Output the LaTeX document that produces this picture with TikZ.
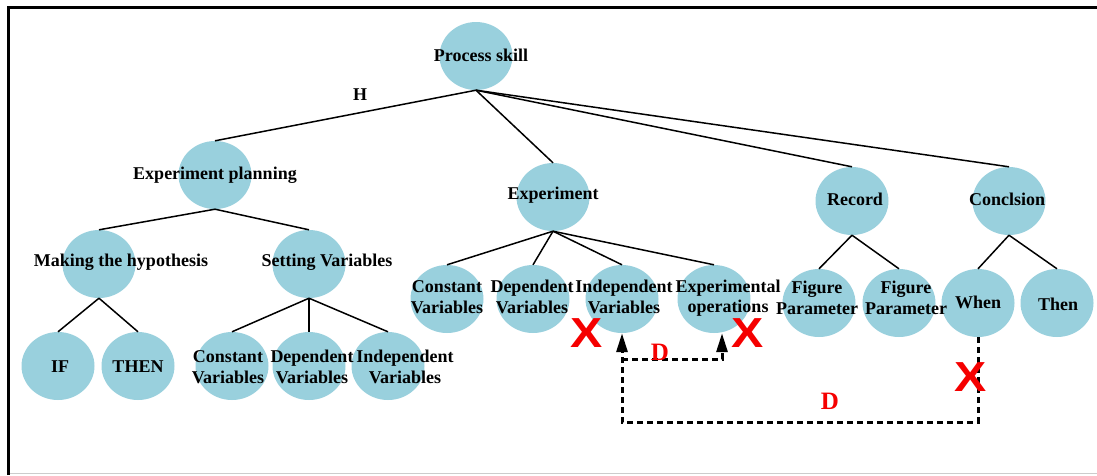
\documentclass[tikz,border=0pt]{standalone}
\usepackage{fontspec}
\setmainfont{Liberation Serif}
\newfontfamily\crossfont{Liberation Sans}
\usetikzlibrary{shapes.geometric,arrows.meta}
\definecolor{bubble}{RGB}{153,208,221}
\definecolor{markred}{RGB}{245,0,0}
\tikzset{
  bub/.style={ellipse, fill=bubble, minimum width=73pt, minimum height=68pt, inner sep=0pt},
  txt/.style={font=\bfseries\fontsize{18}{20.5}\selectfont, align=center, inner sep=0pt, text=black},
  edge/.style={line width=1.5pt, black},
  flow/.style={line width=3pt, dash pattern=on 6pt off 4pt, black},
  tip/.style={-{Triangle[length=19pt,width=11pt]}},
  cross/.style={font=\crossfont\bfseries\fontsize{42}{42}\selectfont, text=markred, inner sep=0pt, xscale=1.15},
  dlab/.style={font=\bfseries\fontsize{25}{25}\selectfont, text=markred, inner sep=0pt}
}
\begin{document}
\begin{tikzpicture}[x=1pt,y=-1pt]
\useasboundingbox (0,0) rectangle (1097,475);

% frame
\draw[line width=3pt] (8.5,475) -- (8.5,7.5) -- (1097,7.5);
\draw[black!20, line width=1pt] (10,473) -- (1097,473);

% bubbles
\node[bub] (ps)   at (476,56)  {};
\node[bub] (plan) at (215,175) {};
\node[bub] (exp)  at (553,197) {};
\node[bub] (rec)  at (852,201) {};
\node[bub] (con)  at (1009,201) {};

\node[bub] (hyp)  at (99,264)  {};
\node[bub] (set)  at (309,264) {};
\node[bub] (if)   at (58,366)  {};
\node[bub] (then) at (138,366) {};
\node[bub] (sc)   at (232,366) {};
\node[bub] (sd)   at (309,366) {};
\node[bub] (si)   at (388,366) {};

\node[bub] (ec)   at (447,299) {};
\node[bub] (ed)   at (533,299) {};
\node[bub] (ind)  at (622,299) {};
\node[bub] (eop)  at (714,299) {};
\node[bub] (fp1)  at (819,303) {};
\node[bub] (fp2)  at (899,303) {};
\node[bub] (when) at (978,303) {};
\node[bub] (thn)  at (1057,303) {};

% tree edges
\foreach \c in {plan,exp,rec,con} \draw[edge] (ps.south) -- (\c.north);
\foreach \c in {hyp,set} \draw[edge] (plan.south) -- (\c.north);
\foreach \c in {if,then} \draw[edge] (hyp.south) -- (\c.north);
\foreach \c in {sc,sd,si} \draw[edge] (set.south) -- (\c.north);
\foreach \c in {ec,ed,ind,eop} \draw[edge] (exp.south) -- (\c.north);
\foreach \c in {fp1,fp2} \draw[edge] (rec.south) -- (\c.north);
\foreach \c in {when,thn} \draw[edge] (con.south) -- (\c.north);

% texts (yshift > 0 moves up)
\node[txt] (ps-t)   at ([xshift=5pt,yshift=1pt]ps) {Process skill};
\node[txt] (plan-t) at (plan) {Experiment planning};
\node[txt] (exp-t)  at ([yshift=2pt]exp) {Experiment};
\node[txt] (rec-t)  at ([xshift=3pt,yshift=2pt]rec) {Record};
\node[txt] (con-t)  at ([xshift=-2pt,yshift=2pt]con) {Conclsion};
\node[txt] (hyp-t)  at ([xshift=22pt,yshift=2pt]hyp) {Making the hypothesis};
\node[txt] (set-t)  at ([xshift=18pt,yshift=2pt]set) {Setting Variables};
\node[txt] (if-t)   at ([xshift=2pt,yshift=-1pt]if) {IF};
\node[txt] (then-t) at ([yshift=-1pt]then) {THEN};
\node[txt] (sc-t)   at ([xshift=-4pt,yshift=-1pt]sc) {Constant\\Variables};
\node[txt] (sd-t)   at ([xshift=3pt,yshift=-1pt]sd) {Dependent\\Variables};
\node[txt] (si-t)   at ([xshift=17pt,yshift=-1pt]si) {Independent\\Variables};
\node[txt] (ec-t)   at ([yshift=2pt]ec) {Constant\\Variables};
\node[txt] (ed-t)   at ([xshift=-1pt,yshift=2pt]ed) {Dependent\\Variables};
\node[txt] (ind-t)  at ([xshift=2pt,yshift=2pt]ind) {Independent\\Variables};
\node[txt] (eop-t)  at ([xshift=14pt,yshift=1pt]eop) {Experimental\\operations};
\node[txt] (fp1-t)  at ([xshift=-2pt,yshift=5pt]fp1) {Figure\\Parameter};
\node[txt] (fp2-t)  at ([xshift=7pt,yshift=5pt]fp2) {Figure\\Parameter};
\node[txt] (when-t) at ([yshift=1pt]when) {When};
\node[txt] (thn-t)  at ([xshift=1pt,yshift=-1pt]thn) {Then};
\node[txt] (h-t)    at (360,95) {H};

% dashed links
\coordinate (low) at (0,422);
\coordinate (mid) at (0,359);
\draw[flow,tip] (when.south) -- (when.south |- low) -| (ind.south);
\draw[flow,tip] (ind.south |- mid) -| ([xshift=8pt]eop.south);

% marks
\node[dlab] (d1) at (660,352) {D};
\node[dlab] (d2) at (830,401) {D};
\node[cross] (x1) at (587,333) {X};
\node[cross] (x2) at (748,333) {X};
\node[cross] (x3) at (971,377) {X};
\end{tikzpicture}
\end{document}
